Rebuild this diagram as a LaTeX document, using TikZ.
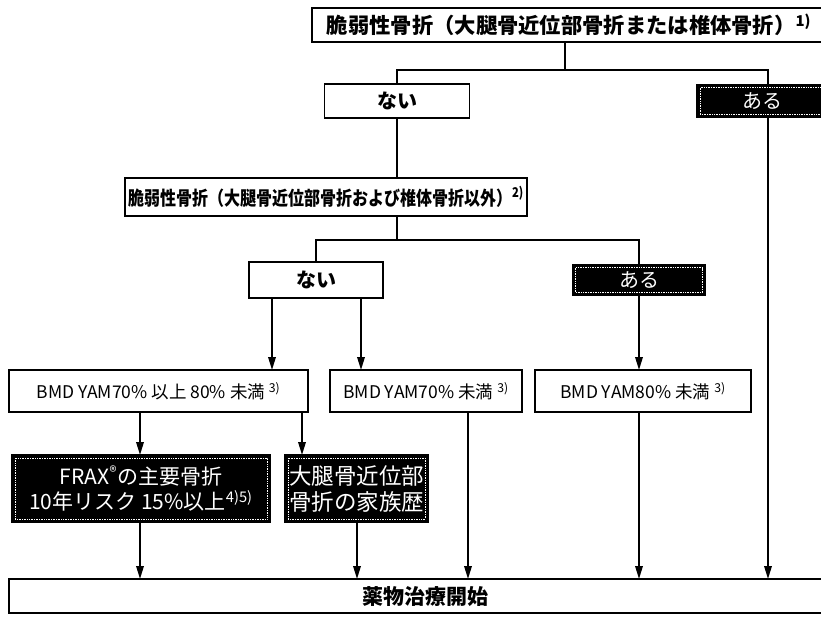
\documentclass[tikz,border=0pt]{standalone}
\usepackage{fontspec}
\usepackage{graphicx}
\setmainfont{Noto Sans CJK JP}
\usetikzlibrary{arrows.meta}
\begin{document}
\begin{tikzpicture}[x=1pt,y=-1pt,
  box/.style={draw=black, line width=1.8pt, fill=white, inner sep=0pt, outer sep=0pt},
  dark/.style={box, fill=black, text=white},
  ln/.style={line width=1.8pt},
  arr/.style={line width=1.8pt, -{Triangle[length=13pt,width=7.5pt]}},
  hd/.style={font=\bfseries\fontsize{20}{22}\selectfont},
  bmd/.style={font=\fontsize{17.5}{20}\selectfont},
  dk/.style={font=\fontsize{21}{25}\selectfont, align=center},
]
\useasboundingbox (0,0) rectangle (821,616);
% nodes
\node[box, font=\bfseries\fontsize{21.3}{24}\selectfont, minimum width=514pt, minimum height=34pt, anchor=west] (top) at (312,25)
  {脆弱性骨折（大腿骨近位部骨折または椎体骨折）\textsuperscript{1)}};
\node[box, hd, minimum width=145pt, minimum height=34pt] (nai1) at (397,101) {ない};
\node[dark, hd, minimum width=131pt, minimum height=33pt] (aru1) at (762.5,101) {\mdseries ある};
\node[box, font=\bfseries\fontsize{16}{19}\selectfont, minimum width=402pt, minimum height=38pt, anchor=west] (fr2) at (125,197)
  {\scalebox{1}[1.2]{脆弱性骨折（大腿骨近位部骨折および椎体骨折以外）\textsuperscript{2)}}};
\node[box, hd, minimum width=134pt, minimum height=36pt] (nai2) at (316,280) {ない};
\node[dark, hd, minimum width=133pt, minimum height=31pt] (aru2) at (639,280) {\mdseries ある};
\node[box, bmd, minimum width=299pt, minimum height=42pt] (bmd1) at (158.5,391)
  {BMD YAM70\% 以上 80\% 未満 \textsuperscript{3)}};
\node[box, bmd, minimum width=192pt, minimum height=42pt] (bmd2) at (426,391)
  {BMD YAM70\% 未満 \textsuperscript{3)}};
\node[box, bmd, minimum width=216pt, minimum height=42pt] (bmd3) at (643,391)
  {BMD YAM80\% 未満 \textsuperscript{3)}};
\node[dark, dk, minimum width=258pt, minimum height=67pt] (frax) at (141,488.5)
  {FRAX\textsuperscript{®}の主要骨折\\10年リスク 15\%以上\textsuperscript{4)5)}};
\node[dark, dk, font=\fontsize{22.5}{26}\selectfont, minimum width=143pt, minimum height=67pt] (fam) at (356.5,488.5)
  {大腿骨近位部\\骨折の家族歴};
\node[box, hd, minimum width=830pt, minimum height=34pt, anchor=north west] (start) at (9,579) {};
\node[hd, font=\bfseries\fontsize{21}{24}\selectfont, inner sep=0pt] (startlbl) at (425,597) {薬物治療開始};
% inset speckle frames of dark boxes
\foreach \n in {aru1,aru2,frax,fam}{
  \draw[white, densely dotted, line width=0.7pt] ([shift={(3,3)}]\n.north west) rectangle ([shift={(-3,-3)}]\n.south east);
}
% junction coordinates
\coordinate (j1) at (565,70);
\coordinate (j2) at (397,240);
\coordinate (a0) at (768,0);
\coordinate (a1) at (272,0);
\coordinate (a2) at (361,0);
\coordinate (a3) at (140,0);
\coordinate (a4) at (302,0);
\coordinate (a5) at (357,0);
\coordinate (a6) at (468,0);
% connectors
\draw[ln] (top.south -| j1) -- (j1);
\draw[ln] (nai1.north) -- (nai1.north |- j1) -- (a0 |- j1) -- (aru1.north -| a0);
\draw[arr] (aru1.south -| a0) -- (start.north -| a0);
\draw[ln] (nai1.south) -- (nai1.south |- fr2.north);
\draw[ln] (fr2.south -| j2) -- (j2);
\draw[ln] (nai2.north) -- (nai2.north |- j2) -- (aru2.north |- j2) -- (aru2.north);
\draw[arr] (nai2.south -| a1) -- (bmd1.north -| a1);
\draw[arr] (nai2.south -| a2) -- (bmd2.north -| a2);
\draw[arr] (aru2.south) -- (bmd3.north -| aru2.south);
\draw[arr] (bmd1.south -| a3) -- (frax.north -| a3);
\draw[arr] (bmd1.south -| a4) -- (fam.north -| a4);
\draw[arr] (frax.south -| a3) -- (start.north -| a3);
\draw[arr] (fam.south -| a5) -- (start.north -| a5);
\draw[arr] (bmd2.south -| a6) -- (start.north -| a6);
\draw[arr] (bmd3.south -| aru2.south) -- (start.north -| aru2.south);
\end{tikzpicture}
\end{document}
